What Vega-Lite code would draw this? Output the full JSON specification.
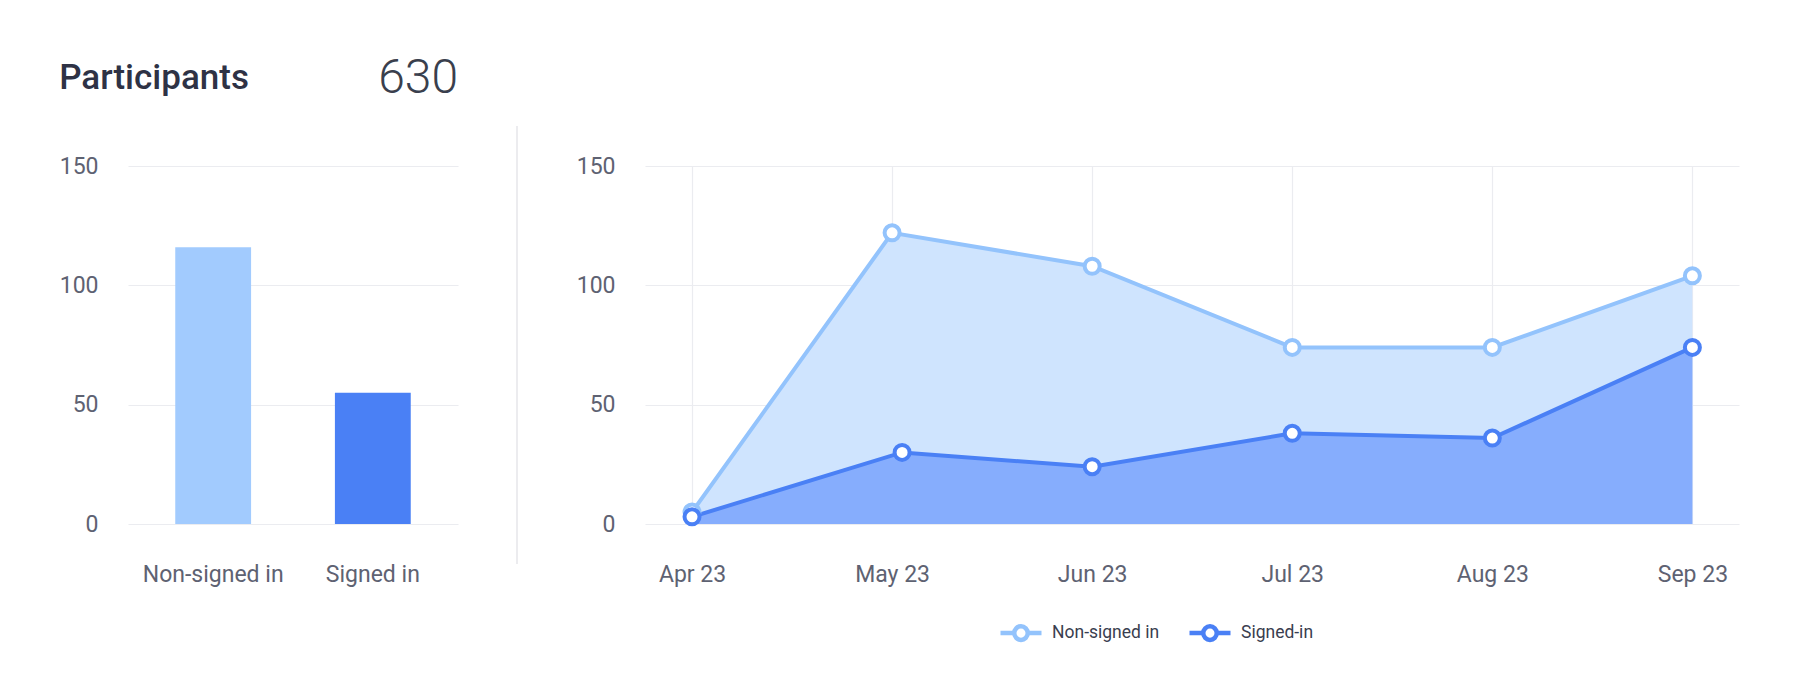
{
  "$schema": "https://vega.github.io/schema/vega-lite/v6.json",
  "background": "white",
  "padding": {"left": 59, "top": 55, "right": 40, "bottom": 10},
  "title": {"text": "Participants", "anchor": "start", "frame": "bounds", "fontSize": 35, "fontWeight": 500, "color": "#2e3245", "font": "Roboto", "baseline": "alphabetic", "offset": -69},
  "config": {
    "font": "Roboto",
    "view": {"stroke": null},
    "axis": {"labelFont": "Roboto", "labelFontSize": 23, "labelColor": "#5e6272", "domain": false, "ticks": false, "gridColor": "#ebecf0", "gridWidth": 1.2, "title": null}
  },
  "bounds": "flush",
  "center": true,
  "spacing": 59,
  "hconcat": [
    {
      "width": 330,
      "height": 358,
      "title": {"text": "630", "anchor": "end", "frame": "group", "fontSize": 48, "fontWeight": 300, "color": "#3a3f4d", "font": "Roboto", "baseline": "alphabetic", "offset": 14},
      "data": {"values": [
        {"group": "Non-signed in", "participants": 116},
        {"group": "Signed in", "participants": 55}
      ]},
      "mark": {"type": "bar"},
      "encoding": {
        "x": {"field": "group", "type": "nominal", "sort": null, "scale": {"paddingInner": 0.525, "paddingOuter": 0.296}, "axis": {"labelAngle": 0, "labelPadding": 39, "labelBaseline": "top", "grid": false}},
        "y": {"field": "participants", "type": "quantitative", "scale": {"domain": [0, 150]}, "axis": {"values": [0, 50, 100, 150], "labelPadding": 30, "grid": true}},
        "color": {"field": "group", "type": "nominal", "scale": {"range": ["#a2cbfe", "#4a80f5"]}, "legend": null}
      }
    },
    {
      "width": 69,
      "height": 438,
      "data": {"values": [{"x": 0}]},
      "mark": {"type": "rule", "color": "#e6e6ea", "strokeWidth": 1.5},
      "encoding": {"x": {"field": "x", "type": "quantitative", "scale": {"domain": [0, 1]}, "axis": null}}
    },
    {
      "width": 1094,
      "height": 358,
      "data": {"values": [
        {"series": "Non-signed in", "month": "Apr 23", "t": 0, "value": 5},
        {"series": "Non-signed in", "month": "May 23", "t": 1, "value": 122},
        {"series": "Non-signed in", "month": "Jun 23", "t": 2, "value": 108},
        {"series": "Non-signed in", "month": "Jul 23", "t": 3, "value": 74},
        {"series": "Non-signed in", "month": "Aug 23", "t": 4, "value": 74},
        {"series": "Non-signed in", "month": "Sep 23", "t": 5, "value": 104},
        {"series": "Signed-in", "month": "Apr 23", "t": 0, "value": 3},
        {"series": "Signed-in", "month": "May 23", "t": 1.05, "value": 30},
        {"series": "Signed-in", "month": "Jun 23", "t": 2, "value": 24},
        {"series": "Signed-in", "month": "Jul 23", "t": 3, "value": 38},
        {"series": "Signed-in", "month": "Aug 23", "t": 4, "value": 36},
        {"series": "Signed-in", "month": "Sep 23", "t": 5, "value": 74}
      ]},
      "encoding": {
        "x": {"field": "t", "type": "quantitative", "scale": {"domain": [-0.235, 5.233], "nice": false, "zero": false}, "axis": {"values": [0, 1, 2, 3, 4, 5], "labelExpr": "['Apr 23','May 23','Jun 23','Jul 23','Aug 23','Sep 23'][datum.value]", "labelPadding": 39, "labelBaseline": "top", "grid": true}},
        "y": {"field": "value", "type": "quantitative", "stack": null, "scale": {"domain": [0, 150]}, "axis": {"values": [0, 50, 100, 150], "labelPadding": 30, "grid": true}}
      },
      "layer": [
        {
          "mark": {"type": "area", "opacity": 1},
          "encoding": {"fill": {"field": "series", "type": "nominal", "scale": {"range": ["#cfe4fe", "#86adfd"]}, "legend": null}}
        },
        {
          "mark": {"type": "line", "strokeWidth": 4},
          "encoding": {"stroke": {"field": "series", "type": "nominal", "scale": {"domain": ["Non-signed in", "Signed-in"], "range": ["#93c3fc", "#4a80f5"]},
            "legend": {"orient": "none", "legendX": 870, "legendY": 484, "direction": "horizontal", "title": null, "symbolType": "M-1,0H-0.33M0.33,0H1M0.33,0A0.33,0.33,0,1,1,-0.33,0A0.33,0.33,0,1,1,0.33,0Z", "symbolSize": 1681, "symbolStrokeWidth": 4.5, "symbolFillColor": "#ffffff", "labelFontSize": 17.5, "labelColor": "#3a3e4f", "labelFont": "Roboto", "labelOffset": 8, "columnPadding": 20, "padding": 0}}}
        },
        {
          "mark": {"type": "point", "filled": true, "fill": "#ffffff", "strokeWidth": 4, "size": 225, "opacity": 1},
          "encoding": {"stroke": {"field": "series", "type": "nominal", "scale": {"domain": ["Non-signed in", "Signed-in"], "range": ["#93c3fc", "#4a80f5"]}}}
        }
      ]
    }
  ]
}
